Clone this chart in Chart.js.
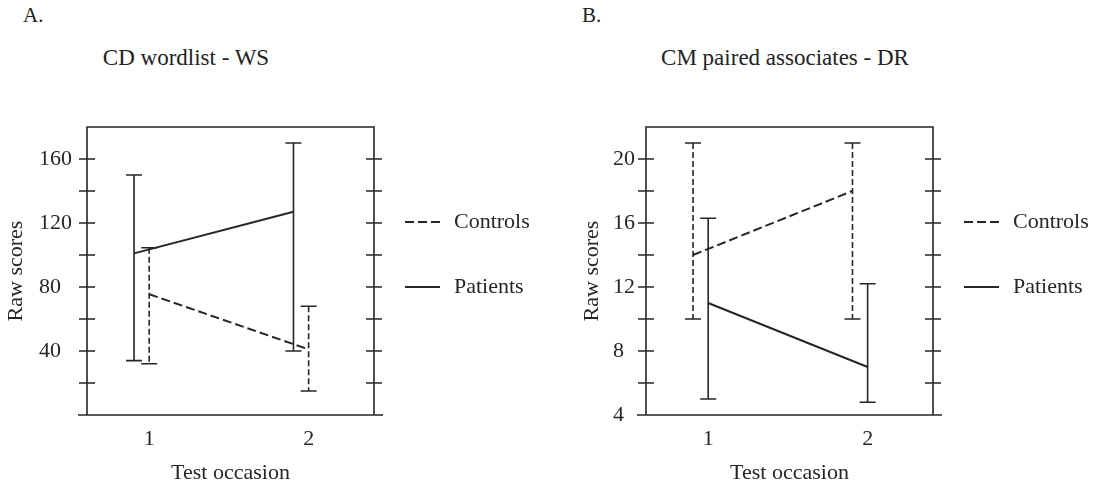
<!DOCTYPE html>
<html>
<head>
<meta charset="utf-8">
<script src="https://cdn.jsdelivr.net/npm/chart.js@4.4.0/dist/chart.umd.min.js"></script>
<style>
    body {
        margin: 0;
        width: 1095px;
        height: 484px;
        position: relative;
        overflow: hidden;
        background: #fff;
        color: #222;
        font-family: "Liberation Serif", "Times New Roman", serif;
    }
    canvas { position: absolute; top: 0; }
    .letter { position: absolute; top: 5px; font-size: 21px; line-height: 1; }
    .title {
        position: absolute;
        top: 46px;
        font-size: 23px;
        line-height: 1;
        white-space: nowrap;
        transform: translateX(-50%);
    }
</style>
</head>
<body>
<div class="letter" style="left:23px">A.</div>
<div class="title" style="left:186px">CD wordlist - WS</div>
<div class="letter" style="left:582px">B.</div>
<div class="title" style="left:785px">CM paired associates - DR</div>

<canvas id="chartA" width="548" height="484" style="left:0"></canvas>
<canvas id="chartB" width="547" height="484" style="left:548px"></canvas>

<script>
// Test occasions and the small sideways shift used to keep the bars apart
const occasions = [1, 2];
const dodge = 0.095;

// Panel A: CD wordlist - WS
const aControlsMean = [75.5, 41];
const aControlsHigh = [104.5, 68];
const aControlsLow = [32, 15];
const aPatientsMean = [101, 127];
const aPatientsHigh = [150, 170];
const aPatientsLow = [34, 40];
const aTickLabels = [40, 80, 120, 160];

// Panel B: CM paired associates - DR
const bControlsMean = [14, 18];
const bControlsHigh = [21, 21];
const bControlsLow = [10, 10];
const bPatientsMean = [11, 7];
const bPatientsHigh = [16.3, 12.2];
const bPatientsLow = [5, 4.8];
const bTickLabels = [4, 8, 12, 16, 20];

const ink = '#262626';
const serif = '"Liberation Serif", "Times New Roman", serif';

// Build one line dataset with its error bar values attached
function makeSeries(label, means, highs, lows, shift, dashed) {
    return {
        label: label,
        data: occasions.map((o, i) => ({ x: o + shift, y: means[i] })),
        errHigh: highs,
        errLow: lows,
        borderColor: ink,
        borderWidth: 2,
        borderDash: dashed ? [9, 4] : [],
        errDash: dashed ? [6, 3] : [],
        pointRadius: 0,
        fill: false,
        tension: 0
    };
}

// Box round the plot, bottom line running a little past it, ticks crossing both sides
const framePlugin = {
    id: 'frame',
    afterDraw(chart) {
        const { ctx, chartArea: a, scales: { y } } = chart;
        ctx.save();
        ctx.strokeStyle = ink;
        ctx.lineWidth = 1.6;
        ctx.beginPath();
        ctx.moveTo(a.left - 9, a.bottom);
        ctx.lineTo(a.right + 9, a.bottom);
        ctx.moveTo(a.left, a.bottom);
        ctx.lineTo(a.left, a.top);
        ctx.lineTo(a.right, a.top);
        ctx.lineTo(a.right, a.bottom);
        y.ticks.forEach(t => {
            if (t.value <= y.min || t.value >= y.max) return;
            const py = y.getPixelForValue(t.value);
            ctx.moveTo(a.left - 8, py);
            ctx.lineTo(a.left + 8, py);
            ctx.moveTo(a.right - 8, py);
            ctx.lineTo(a.right + 8, py);
        });
        ctx.stroke();
        ctx.restore();
    }
};

// Vertical error bars with caps
const errorBarPlugin = {
    id: 'errorBars',
    afterDatasetsDraw(chart) {
        const { ctx, scales: { x, y } } = chart;
        ctx.save();
        ctx.strokeStyle = ink;
        ctx.lineWidth = 1.6;
        chart.data.datasets.forEach(ds => {
            ds.data.forEach((p, i) => {
                const px = x.getPixelForValue(p.x);
                const top = y.getPixelForValue(ds.errHigh[i]);
                const bottom = y.getPixelForValue(ds.errLow[i]);
                ctx.setLineDash(ds.errDash);
                ctx.beginPath();
                ctx.moveTo(px, top);
                ctx.lineTo(px, bottom);
                ctx.stroke();
                ctx.setLineDash([]);
                ctx.beginPath();
                ctx.moveTo(px - 8, top);
                ctx.lineTo(px + 8, top);
                ctx.moveTo(px - 8, bottom);
                ctx.lineTo(px + 8, bottom);
                ctx.stroke();
            });
        });
        ctx.restore();
    }
};

// Legend to the right of the box
const sideLegendPlugin = {
    id: 'sideLegend',
    afterDraw(chart) {
        const { ctx, chartArea: a } = chart;
        ctx.save();
        ctx.font = '22px ' + serif;
        ctx.fillStyle = ink;
        ctx.textBaseline = 'middle';
        ctx.textAlign = 'left';
        chart.data.datasets.forEach((ds, i) => {
            const ly = a.top + 95 + i * 65;
            ctx.strokeStyle = ink;
            ctx.lineWidth = 2;
            ctx.setLineDash(ds.borderDash);
            ctx.beginPath();
            ctx.moveTo(a.right + 31, ly);
            ctx.lineTo(a.right + 66, ly);
            ctx.stroke();
            ctx.setLineDash([]);
            ctx.fillText(ds.label, a.right + 80, ly);
        });
        ctx.restore();
    }
};

function createPanel(canvasId, datasets, yMin, yMax, step, tickLabels, box) {
    const ctx = document.getElementById(canvasId).getContext('2d');
    return new Chart(ctx, {
        type: 'line',
        data: { datasets: datasets },
        options: {
            responsive: false,
            animation: false,
            layout: {
                padding: { left: box.padLeft, right: box.padRight, top: 127, bottom: 0 }
            },
            plugins: {
                legend: { display: false },
                tooltip: { enabled: false }
            },
            scales: {
                x: {
                    type: 'linear',
                    min: 0.61,
                    max: 2.41,
                    afterBuildTicks: scale => {
                        scale.ticks = occasions.map(v => ({ value: v }));
                    },
                    afterFit: scale => { scale.height = 69; },
                    grid: { display: false, drawTicks: false },
                    border: { display: false },
                    ticks: {
                        color: ink,
                        padding: 11,
                        font: { family: serif, size: 22 }
                    },
                    title: {
                        display: true,
                        text: 'Test occasion',
                        color: ink,
                        padding: 0,
                        font: { family: serif, size: 22, lineHeight: 1 }
                    }
                },
                y: {
                    min: yMin,
                    max: yMax,
                    afterFit: scale => { scale.width = box.axisWidth; },
                    grid: { display: false, drawTicks: false },
                    border: { display: false },
                    ticks: {
                        stepSize: step,
                        color: ink,
                        crossAlign: 'far',
                        font: { family: serif, size: 22 },
                        callback: v => tickLabels.includes(v) ? String(v) : ''
                    },
                    title: {
                        display: true,
                        text: 'Raw scores',
                        color: ink,
                        padding: { top: box.titlePad, bottom: 0 },
                        font: { family: serif, size: 22 }
                    }
                }
            }
        },
        plugins: [framePlugin, errorBarPlugin, sideLegendPlugin]
    });
}

createPanel('chartA', [
    makeSeries('Controls', aControlsMean, aControlsHigh, aControlsLow, 0, true),
    makeSeries('Patients', aPatientsMean, aPatientsHigh, aPatientsLow, -dodge, false)
], 0, 180, 20, aTickLabels, { padLeft: 39, axisWidth: 48, padRight: 174, titlePad: -36 });

createPanel('chartB', [
    makeSeries('Controls', bControlsMean, bControlsHigh, bControlsLow, -dodge, true),
    makeSeries('Patients', bPatientsMean, bPatientsHigh, bPatientsLow, 0, false)
], 4, 22, 2, bTickLabels, { padLeft: 65, axisWidth: 33, padRight: 162, titlePad: -34 });
</script>
</body>
</html>
